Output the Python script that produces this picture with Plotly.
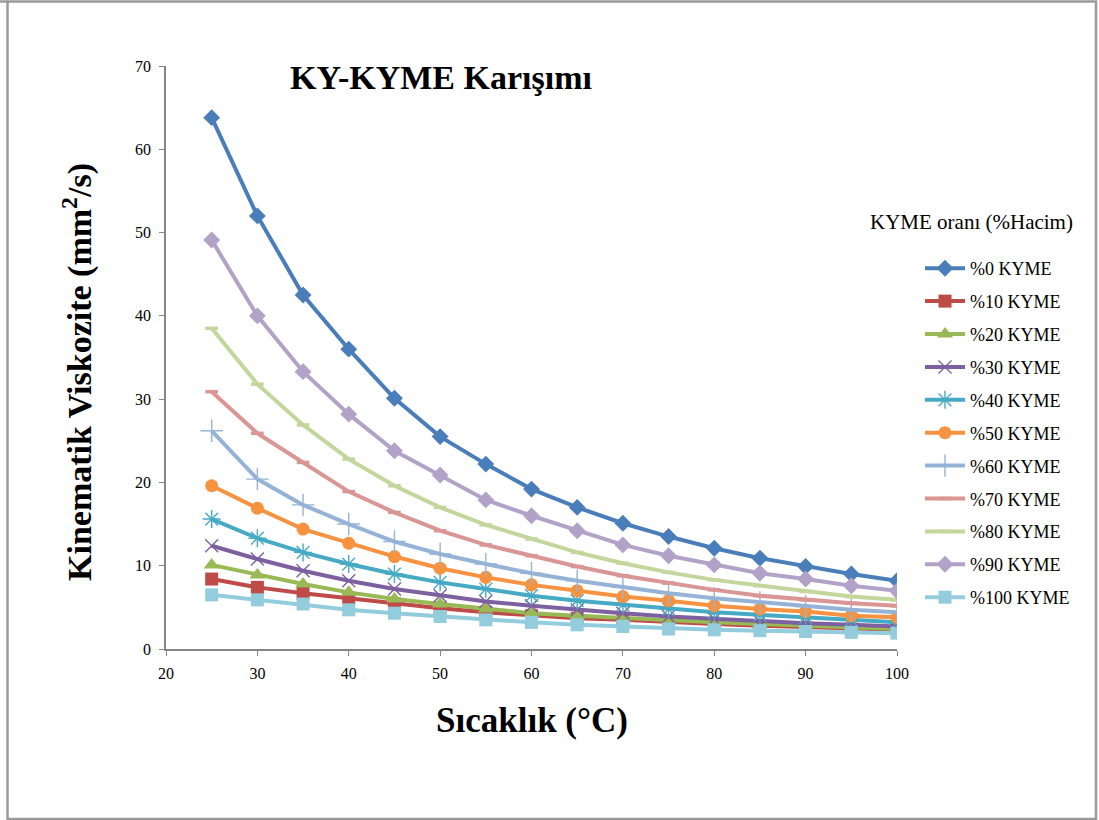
import plotly.graph_objects as go

temps = [25, 30, 35, 40, 45, 50, 55, 60, 65, 70, 75, 80, 85, 90, 95, 100]

series_names = ["%0 KYME", "%10 KYME", "%20 KYME", "%30 KYME", "%40 KYME", "%50 KYME",
                "%60 KYME", "%70 KYME", "%80 KYME", "%90 KYME", "%100 KYME"]

kyme0 = [63.8, 52.0, 42.5, 36.0, 30.1, 25.5, 22.2, 19.2, 17.0, 15.1, 13.5, 12.1, 10.9, 9.9, 9.0, 8.2]
kyme10 = [8.4, 7.4, 6.7, 6.1, 5.4, 4.9, 4.4, 4.0, 3.7, 3.5, 3.2, 3.0, 2.8, 2.6, 2.4, 2.3]
kyme20 = [10.1, 8.9, 7.8, 6.8, 6.0, 5.4, 4.8, 4.3, 4.0, 3.7, 3.4, 3.2, 3.0, 2.8, 2.6, 2.4]
kyme30 = [12.4, 10.8, 9.4, 8.2, 7.2, 6.4, 5.7, 5.2, 4.7, 4.3, 3.9, 3.6, 3.3, 3.1, 2.9, 2.7]
kyme40 = [15.6, 13.3, 11.6, 10.2, 9.0, 8.0, 7.2, 6.4, 5.8, 5.3, 4.8, 4.4, 4.1, 3.8, 3.5, 3.2]
kyme50 = [19.6, 16.9, 14.4, 12.7, 11.1, 9.7, 8.6, 7.7, 7.0, 6.3, 5.8, 5.2, 4.8, 4.5, 4.0, 3.8]
kyme60 = [26.2, 20.4, 17.3, 15.0, 12.9, 11.4, 10.2, 9.1, 8.2, 7.4, 6.7, 6.1, 5.6, 5.1, 4.7, 4.4]
kyme70 = [30.9, 25.9, 22.4, 18.9, 16.4, 14.2, 12.5, 11.2, 9.9, 8.8, 7.9, 7.1, 6.4, 5.9, 5.5, 5.2]
kyme80 = [38.5, 31.8, 26.9, 22.8, 19.6, 17.0, 14.9, 13.2, 11.6, 10.3, 9.2, 8.3, 7.6, 6.9, 6.3, 5.9]
kyme90 = [49.1, 40.0, 33.3, 28.2, 23.8, 20.9, 17.9, 16.0, 14.2, 12.5, 11.2, 10.1, 9.1, 8.4, 7.6, 7.0]
kyme100 = [6.5, 5.9, 5.4, 4.7, 4.3, 3.9, 3.5, 3.2, 2.9, 2.7, 2.4, 2.3, 2.2, 2.1, 2.0, 1.9]

all_values = [kyme0, kyme10, kyme20, kyme30, kyme40, kyme50, kyme60, kyme70, kyme80, kyme90, kyme100]

colors = ["#4A7EBB", "#BE4B48", "#98B954", "#7D60A0", "#46AAC5", "#F69240",
          "#95B3D7", "#D99694", "#C3D69B", "#B3A2C7", "#93CDDD"]
symbols = ["diamond", "square", "triangle-up", "x-thin", "asterisk", "circle",
           "cross-thin", "line-ew", "line-ew", "diamond", "square"]
sizes = [13, 13, 14, 13, 15, 13, 16, 9, 9, 13, 13]

fig = go.Figure()
for name, vals, col, sym, sz in zip(series_names, all_values, colors, symbols, sizes):
    if sym == "line-ew":
        lw = 3.5
    elif sym in ("x-thin", "asterisk", "cross-thin"):
        lw = 1.4
    else:
        lw = 0
    fig.add_trace(go.Scatter(
        x=temps, y=vals, name=name, mode="lines+markers",
        line=dict(color=col, width=4),
        marker=dict(symbol=sym, size=sz, color=col, line=dict(color=col, width=lw)),
        legendgroup=name,
    ))

W, H = 1099, 820
L, R, T, B = 166, 897, 66, 649
pw, ph = R - L, B - T


def px(x):
    return (x - L) / pw


def py(y):
    return (B - y) / ph


serif = "Liberation Serif"

fig.update_layout(
    width=W, height=H,
    margin=dict(l=L, r=W - R, t=T, b=H - B),
    paper_bgcolor="white", plot_bgcolor="white",
    font=dict(family=serif, color="#000000"),
    showlegend=True,
    legend=dict(x=px(920), y=py(250), xanchor="left", yanchor="top",
                font=dict(family=serif, size=18, color="#000000"),
                traceorder="grouped", tracegroupgap=6.5,
                bgcolor="rgba(0,0,0,0)", itemwidth=40),
    xaxis=dict(range=[20, 100], tickvals=[20, 30, 40, 50, 60, 70, 80, 90, 100],
               showgrid=False, zeroline=False, showline=True, linecolor="#868686", linewidth=1.5,
               ticks="outside", ticklen=5, tickcolor="#868686", ticklabelstandoff=4,
               tickfont=dict(family=serif, size=16, color="#000000")),
    yaxis=dict(range=[0, 70], tickvals=[0, 10, 20, 30, 40, 50, 60, 70],
               showgrid=False, zeroline=False, showline=True, linecolor="#868686", linewidth=1.5,
               ticks="outside", ticklen=5, tickcolor="#868686", ticklabelstandoff=5,
               tickfont=dict(family=serif, size=16, color="#000000")),
    annotations=[
        dict(text="<b>KY-KYME Karışımı</b>", x=px(441), y=py(77), xref="paper", yref="paper",
             xanchor="center", yanchor="middle",
             showarrow=False, font=dict(family=serif, size=34, color="#000000")),
        dict(text="<b>Sıcaklık (°C)</b>", x=px(532), y=py(720), xref="paper", yref="paper",
             xanchor="center", yanchor="middle",
             showarrow=False, font=dict(family=serif, size=35, color="#000000")),
        dict(text="<b>Kinematik Viskozite (mm<sup>2</sup>/s)</b>", x=px(77), y=py(372),
             xref="paper", yref="paper", textangle=-90, xanchor="center", yanchor="middle",
             showarrow=False, font=dict(family=serif, size=34, color="#000000")),
        dict(text="KYME oranı (%Hacim)", x=px(868), y=py(222), xref="paper", yref="paper",
             xanchor="left", yanchor="middle",
             showarrow=False, font=dict(family=serif, size=21, color="#000000")),
    ],
    shapes=[
        dict(type="rect", xref="paper", yref="paper", x0=px(7.5), x1=px(1096), y0=py(819), y1=py(1.5),
             line=dict(color="#9A9A9A", width=2.5), fillcolor="rgba(0,0,0,0)"),
        dict(type="line", xref="paper", yref="paper", x0=px(0), x1=px(7.5), y0=py(1.5), y1=py(1.5),
             line=dict(color="#9A9A9A", width=2.5)),
    ],
)

fig.write_html("out.html", config={"displayModeBar": False},
               post_script="document.body.style.margin='0';document.body.style.overflow='hidden';")
